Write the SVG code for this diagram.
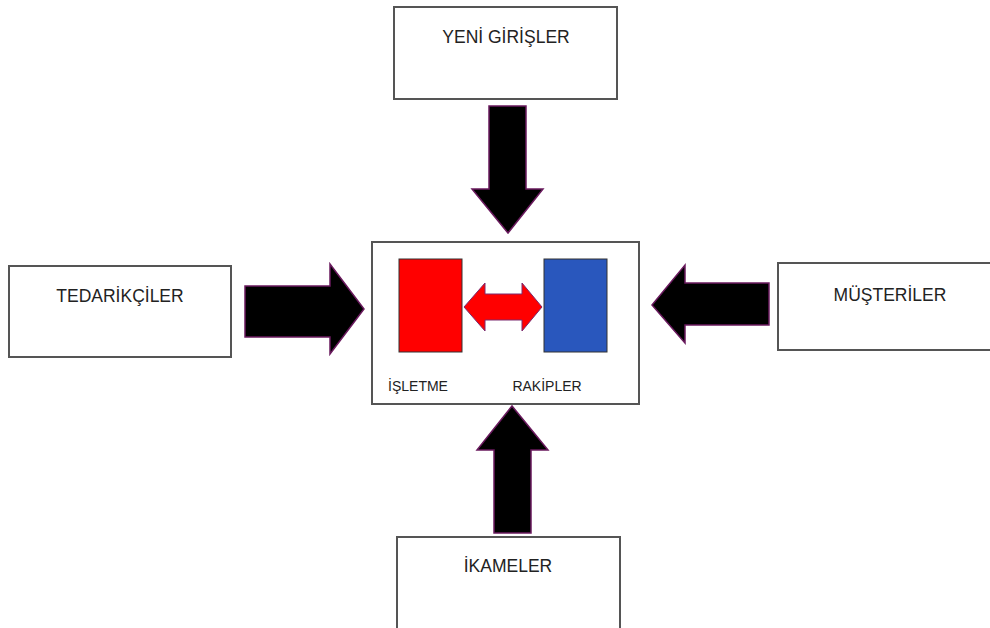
<svg xmlns="http://www.w3.org/2000/svg" width="990" height="628" viewBox="0 0 990 628">
<style>
.box{fill:#fff;stroke:#555;stroke-width:2}
.lbl{font-family:"Liberation Sans",Arial,sans-serif;font-size:17.5px;fill:#222;text-anchor:middle}
.sm{font-family:"Liberation Sans",Arial,sans-serif;font-size:14px;fill:#222;text-anchor:middle}
.arr{fill:#000;stroke:#6a1a5e;stroke-width:1.5;stroke-linejoin:miter}
</style>
<rect width="990" height="628" fill="#fff"/>
<g id="yeni-girisler">
<rect class="box" x="394" y="7" width="223" height="92"/>
<text class="lbl" x="506" y="43">YENİ GİRİŞLER</text>
</g>
<g id="tedarikciler">
<rect class="box" x="9" y="266" width="222" height="91"/>
<text class="lbl" x="120" y="302">TEDARİKÇİLER</text>
</g>
<g id="musteriler">
<rect class="box" x="778" y="263" width="214" height="87"/>
<text class="lbl" x="890" y="301">MÜŞTERİLER</text>
</g>
<g id="ikameler">
<rect class="box" x="397" y="537" width="223" height="100"/>
<text class="lbl" x="508" y="572">İKAMELER</text>
</g>
<g id="merkez">
<rect class="box" x="372" y="242" width="267" height="162"/>
<rect x="399" y="259" width="63" height="93" fill="#ff0000" stroke="#333" stroke-width="1"/>
<rect x="544" y="259" width="63" height="93" fill="#2957bd" stroke="#333" stroke-width="1"/>
<polygon points="464,307 485,283 485,294 522,294 522,283 542,307 522,331 522,320 485,320 485,331" fill="#ff0000" stroke="#7a2a6e" stroke-width="1"/>
<text class="sm" x="418" y="391">İŞLETME</text>
<text class="sm" x="547" y="391">RAKİPLER</text>
</g>
<g id="connectors">
<polygon class="arr" points="489,106 526,106 526,189 543,189 508,233 472,189 489,189"/>
<polygon class="arr" points="245,286 330,286 330,264 364,309 330,354 330,337 245,337"/>
<polygon class="arr" points="769,283 685,283 685,265 652,305 685,343 685,325 769,325"/>
<polygon class="arr" points="494,533 531,533 531,450 548,450 512,406 477,450 494,450"/>
</g>
</svg>
